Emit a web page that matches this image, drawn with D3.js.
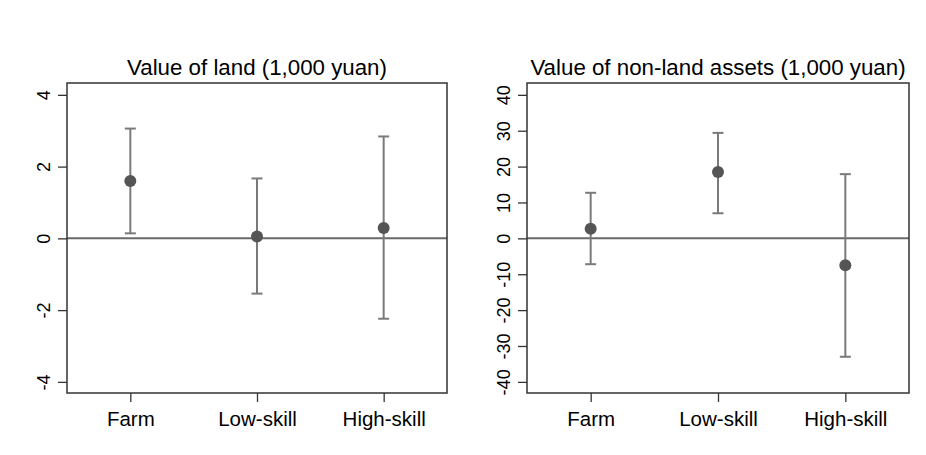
<!DOCTYPE html>
<html>
<head>
<meta charset="utf-8">
<script src="https://cdn.jsdelivr.net/npm/d3@7"></script>
<style>
  body { margin: 0; background: #fff; }
  text { font-family: "Liberation Sans", Arial, Helvetica, sans-serif; fill: #000; }
</style>
</head>
<body>
<div id="container"></div>
<script>
const w = 926;
const h = 455;

const groups = ['Farm', 'Low-skill', 'High-skill'];

// value of land (1,000 yuan)
const landEst = [1.60, 0.05, 0.29];
const landLo = [0.14, -1.54, -2.24];
const landHi = [3.06, 1.67, 2.84];
const landTicks = [-4, -2, 0, 2, 4];

// value of non-land assets (1,000 yuan)
const assetEst = [2.7, 18.5, -7.5];
const assetLo = [-7.2, 7.0, -33.0];
const assetHi = [12.7, 29.4, 17.9];
const assetTicks = [-40, -30, -20, -10, 0, 10, 20, 30, 40];

const svg = d3.select('#container')
  .append('svg')
  .attr('width', w)
  .attr('height', h)
  .attr('viewBox', [0, 0, w, h]);

const plotTop = 83;
const plotBottom = 393;

const panel = (opts) => {
  const { left, right, title, est, lo, hi, ticks, domain } = opts;

  const x = d3.scalePoint()
    .domain(groups)
    .range([left, right])
    .padding(0.5);

  const y = d3.scaleLinear()
    .domain(domain)
    .range([plotBottom, plotTop]);

  const g = svg.append('g');

  // y axis (plain hyphen for negatives, like Stata)
  const yAxis = g.append('g')
    .attr('transform', 'translate(' + left + ',0)')
    .call(d3.axisLeft(y).tickValues(ticks).tickSize(9).tickFormat(d => String(d)));
  yAxis.select('.domain').remove();
  yAxis.selectAll('.tick line').attr('stroke', '#333').attr('stroke-width', 1.3);
  yAxis.selectAll('.tick text')
    .attr('x', null)
    .attr('dy', null)
    .attr('transform', 'translate(-17,0) rotate(-90)')
    .style('text-anchor', 'middle')
    .style('font-size', '18px');

  // x axis
  const xAxis = g.append('g')
    .attr('transform', 'translate(0,' + plotBottom + ')')
    .call(d3.axisBottom(x).tickSize(9).tickPadding(9));
  xAxis.select('.domain').remove();
  xAxis.selectAll('.tick line').attr('stroke', '#333').attr('stroke-width', 1.3);
  xAxis.selectAll('.tick text').style('font-size', '20.5px');

  // zero line
  g.append('line')
    .attr('x1', left)
    .attr('x2', right)
    .attr('y1', y(0))
    .attr('y2', y(0))
    .attr('stroke', '#6a6a6a')
    .attr('stroke-width', 2);

  // error bars
  const idx = d3.range(groups.length);
  g.selectAll('.bar')
    .data(idx)
    .enter()
    .append('line')
    .attr('x1', i => x(groups[i]))
    .attr('x2', i => x(groups[i]))
    .attr('y1', i => y(lo[i]))
    .attr('y2', i => y(hi[i]))
    .attr('stroke', '#7a7a7a')
    .attr('stroke-width', 2);

  [lo, hi].forEach(arr => {
    g.selectAll(null)
      .data(idx)
      .enter()
      .append('line')
      .attr('x1', i => x(groups[i]) - 5.5)
      .attr('x2', i => x(groups[i]) + 5.5)
      .attr('y1', i => y(arr[i]))
      .attr('y2', i => y(arr[i]))
      .attr('stroke', '#7a7a7a')
      .attr('stroke-width', 2);
  });

  // point estimates
  g.selectAll('circle')
    .data(idx)
    .enter()
    .append('circle')
    .attr('cx', i => x(groups[i]))
    .attr('cy', i => y(est[i]))
    .attr('r', 6)
    .attr('fill', '#555');

  // frame
  g.append('rect')
    .attr('x', left)
    .attr('y', plotTop)
    .attr('width', right - left)
    .attr('height', plotBottom - plotTop)
    .attr('fill', 'none')
    .attr('stroke', '#333')
    .attr('stroke-width', 1.5);

  g.append('text')
    .attr('x', (left + right) / 2)
    .attr('y', 75)
    .attr('text-anchor', 'middle')
    .style('font-size', '22.3px')
    .text(title);
};

panel({
  left: 67, right: 447,
  title: 'Value of land (1,000 yuan)',
  est: landEst, lo: landLo, hi: landHi,
  ticks: landTicks,
  domain: [-4.31, 4.33]
});

panel({
  left: 527, right: 909,
  title: 'Value of non-land assets (1,000 yuan)',
  est: assetEst, lo: assetLo, hi: assetHi,
  ticks: assetTicks,
  domain: [-43.1, 43.3]
});
</script>
</body>
</html>
